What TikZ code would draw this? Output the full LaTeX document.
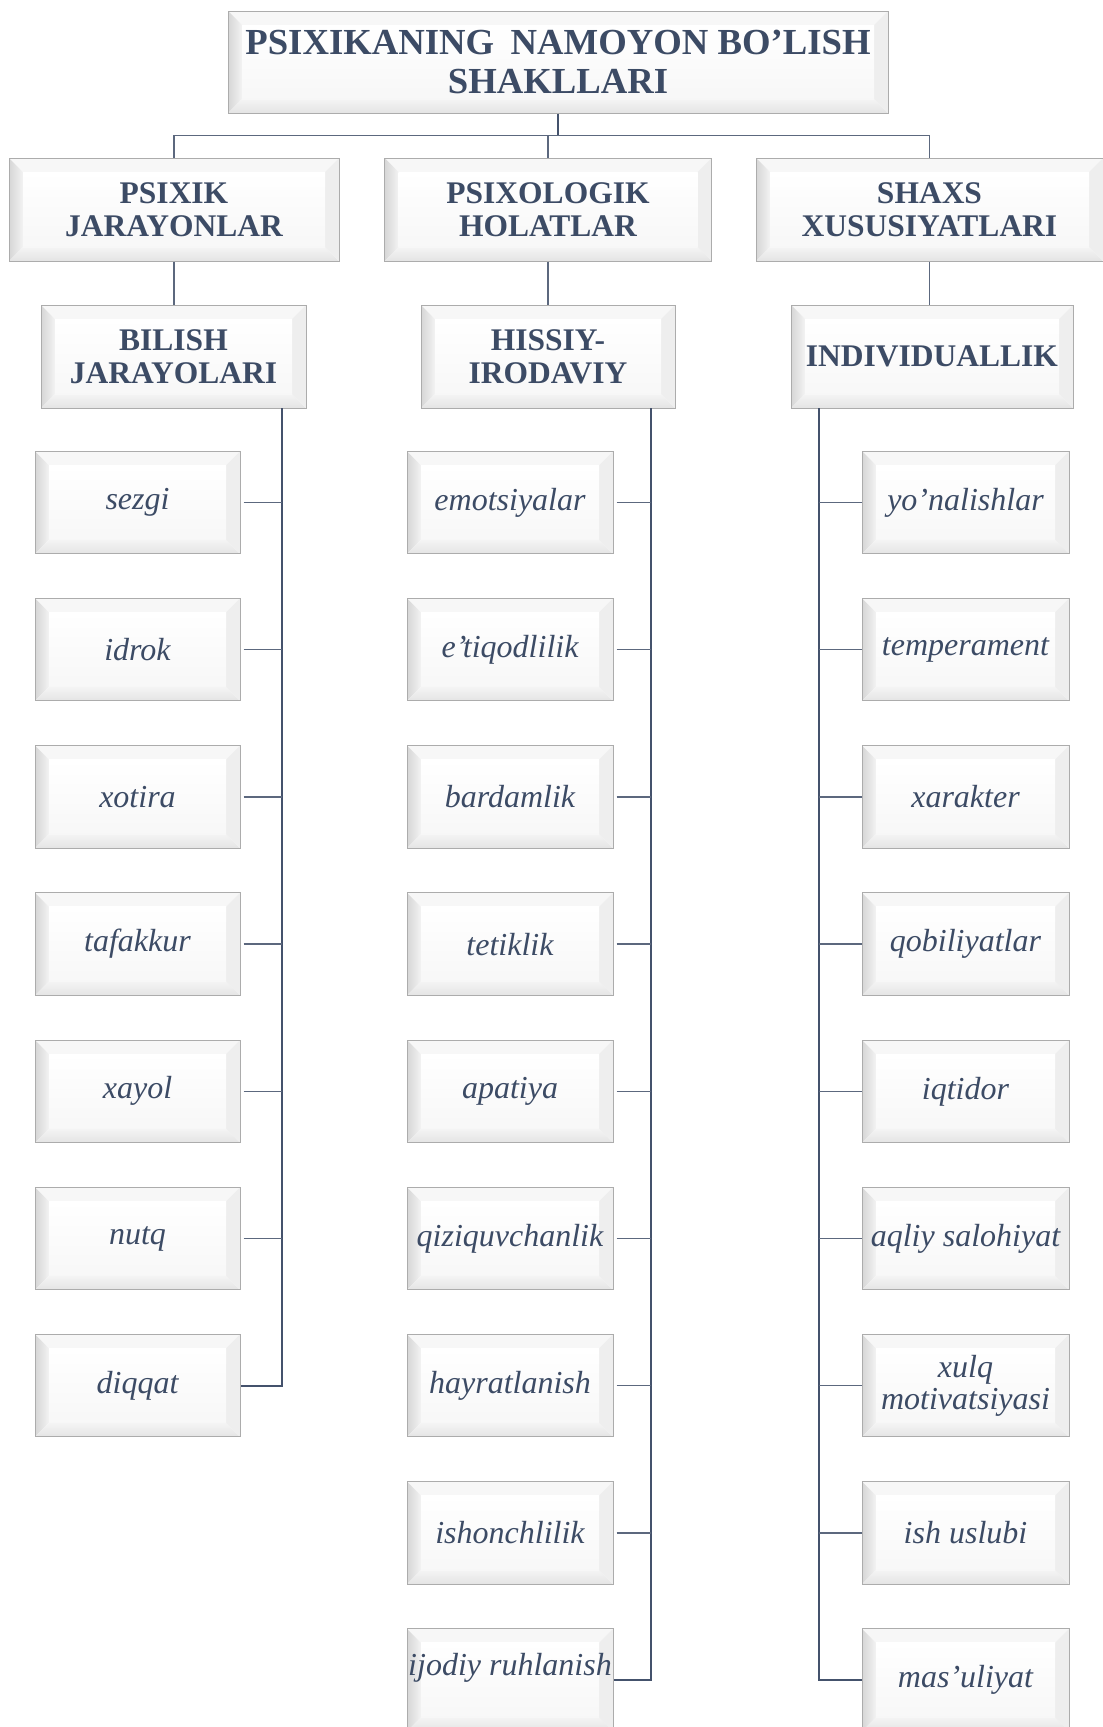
\documentclass[tikz,border=0pt]{standalone}
\usepackage{fontspec}
\setmainfont{Liberation Serif}
\usetikzlibrary{calc}

\definecolor{ink}{RGB}{60,75,101}
\definecolor{wire}{RGB}{68,82,108}
\definecolor{twig}{RGB}{92,104,126}
\definecolor{rim}{RGB}{172,172,172}
\definecolor{bevL}{RGB}{214,214,214}
\definecolor{bevB}{RGB}{228,228,228}
\definecolor{bevR}{RGB}{238,238,238}
\definecolor{bevT}{RGB}{247,247,247}

\tikzset{
  bevelbox/.style={rectangle, inner sep=0pt, align=center, text=ink,
    draw=rim, line width=1pt,
    path picture={
      \coordinate (pa) at (path picture bounding box.north west);
      \coordinate (pb) at (path picture bounding box.north east);
      \coordinate (pc) at (path picture bounding box.south east);
      \coordinate (pd) at (path picture bounding box.south west);
      \coordinate (qa) at ($(pa)+(14pt,-14pt)$);
      \coordinate (qb) at ($(pb)+(-14pt,-14pt)$);
      \coordinate (qc) at ($(pc)+(-14pt,14pt)$);
      \coordinate (qd) at ($(pd)+(14pt,14pt)$);
      \fill[bevT] (pa) -- (pb) -- (qb) -- (qa) -- cycle;
      \shade[left color=bevL, right color=bevL!30!white] (pa) -- (qa) -- (qd) -- (pd) -- cycle;
      \shade[top color=bevB!40!white, bottom color=bevB] (pd) -- (qd) -- (qc) -- (pc) -- cycle;
      \fill[bevR] (pb) -- (pc) -- (qc) -- (qb) -- cycle;
      \shade[top color=white, bottom color=white!97!black] (qa) rectangle (qc);
    }},
  topbox/.style={bevelbox, minimum width=660pt, minimum height=102pt,
    font=\fontsize{36.7}{38.6}\selectfont\bfseries},
  headbox/.style={bevelbox, minimum height=103pt,
    font=\fontsize{31.5}{33}\selectfont\bfseries},
  leafbox/.style={bevelbox, minimum width=206pt, minimum height=102.5pt,
    font=\fontsize{32}{32}\selectfont\itshape},
  link/.style={draw=wire, line width=1.9pt},
  twiglink/.style={draw=twig, line width=1.5pt}
}

\begin{document}
\begin{tikzpicture}[x=1pt, y=-1pt]
  \useasboundingbox (0,0) rectangle (1103,1727);
  \clip (0,0) rectangle (1103,1727);

  % root
  \node[topbox] (root) at (558,62) {PSIXIKANING\hspace{0.2em} NAMOYON BO’LISH\\SHAKLLARI};

  % second level
  \node[headbox, minimum width=330pt] (pj) at (174,209.5) {PSIXIK\\JARAYONLAR};
  \node[headbox, minimum width=327pt] (ph) at (548,209.5) {PSIXOLOGIK\\HOLATLAR};
  \node[headbox, minimum width=347pt] (sx) at (929.5,209.5) {SHAXS\\XUSUSIYATLARI};

  % third level
  \node[headbox, minimum width=265pt] (bj) at (173.5,356.5) {BILISH\\JARAYOLARI};
  \node[headbox, minimum width=254pt] (hi) at (548,356.5) {HISSIY-\\IRODAVIY};
  \node[headbox, minimum width=282pt] (ind) at (932,356.5) {INDIVIDUALLIK};

  % bus under the root
  \coordinate (bus) at (0,135.5);
  \draw[link] (root.south) -- (root.south |- bus);
  \draw[twiglink] (pj.north) -- (pj.north |- bus) -- (sx.north |- bus) -- (sx.north);
  \draw[twiglink] (ph.north) -- (ph.north |- bus);

  % second to third level
  \draw[twiglink] (pj.south) -- (pj.south |- bj.north);
  \draw[twiglink] (ph.south) -- (ph.south |- hi.north);
  \draw[twiglink] (sx.south) -- (sx.south |- ind.north);

  % spine tops
  \coordinate (sL) at (282,408);
  \coordinate (sM) at (651,408);
  \coordinate (sR) at (819,408);

  % cognitive processes
  \foreach \t [count=\i] in {sezgi, idrok, xotira, tafakkur, xayol, nutq, diqqat} {
    \node[leafbox, minimum width=205pt] (L\i) at (137.5,{502.5+147.2*(\i-1)}) {\t};
  }
  % emotional-volitional states
  \foreach \t [count=\i] in {emotsiyalar, e’tiqodlilik, bardamlik, tetiklik, apatiya,
      qiziquvchanlik, hayratlanish, ishonchlilik, {ijodiy ruhlanish\\\mbox{}}} {
    \node[leafbox] (M\i) at (510,{502.5+147.2*(\i-1)}) {\t};
  }
  % individuality
  \foreach \t [count=\i] in {yo’nalishlar, temperament, xarakter, qobiliyatlar, iqtidor,
      aqliy salohiyat, {xulq\\motivatsiyasi}, ish uslubi, mas’uliyat} {
    \node[leafbox, minimum width=207pt] (R\i) at (965.5,{502.5+147.2*(\i-1)}) {\t};
  }

  % spines
  \draw[link] (sL) -- (sL |- L7.east) -- (L7.east);
  \draw[link] (sM) -- (sM |- M9.east) -- (M9.east);
  \draw[link] (sR) -- (sR |- R9.west) -- (R9.west);

  % branches
  \foreach \i in {1,...,6} {
    \draw[twiglink] ([xshift=3pt]L\i.east) -- (L\i.east -| sL);
  }
  \foreach \i in {1,...,8} {
    \draw[twiglink] ([xshift=3pt]M\i.east) -- (M\i.east -| sM);
    \draw[twiglink] (R\i.west) -- (R\i.west -| sR);
  }
\end{tikzpicture}
\end{document}
